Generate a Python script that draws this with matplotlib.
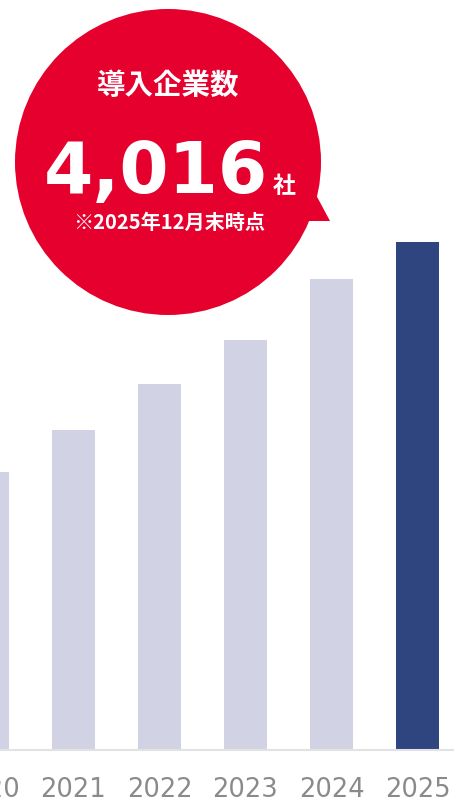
import matplotlib
matplotlib.use("Agg")
import matplotlib.pyplot as plt
from matplotlib.patches import Circle, Polygon

# Number of companies using the service, by year
years = ["2020", "2021", "2022", "2023", "2024", "2025"]
companies = [2200, 2530, 2890, 3240, 3720, 4016]

bubble_title = "導入企業数"
unit = "社"
note = "※2025年12月末時点"

W, H = 454, 803
fig = plt.figure(figsize=(W / 100, H / 100), dpi=100)

# Bar chart axes: baseline 52 px above the bottom edge; the axes starts
# 50 px left of the canvas so the first year is only partly visible
left_px = -50
ax = fig.add_axes([left_px / W, 52 / H, (W - left_px) / W, (H - 52) / H])
x = list(range(len(years)))
colors = ["#d1d3e5"] * (len(years) - 1) + ["#2e4580"]
ax.bar(x, companies, width=0.5, color=colors, zorder=2)
for s in ["top", "left", "right"]:
    ax.spines[s].set_visible(False)
ax.spines["bottom"].set_color("#e2e2e2")
ax.spines["bottom"].set_linewidth(1.5)
ax.set_yticks([])
ax.set_xticks(x)
ax.set_xticklabels(years, fontsize=18.5, color="#8a8a8a", family="DejaVu Sans")
ax.tick_params(axis="x", length=0, pad=19)
ax.set_xlim((left_px + 12.5) / 86, (W + 12.5) / 86)
ax.set_ylim(0, 4016 * (H - 52) / 508)

# Speech bubble overlay in pixel coordinates
ov = fig.add_axes([0, 0, 1, 1], zorder=5)
ov.set_xlim(0, W)
ov.set_ylim(H, 0)
ov.axis("off")
ov.patch.set_alpha(0)
red = "#e5002d"
ov.add_patch(Circle((168, 163), 153, color=red, lw=0))
ov.add_patch(Polygon([(315, 194), (330, 222), (300, 222)], closed=True, color=red, lw=0))

jp = ["Noto Sans CJK JP", "DejaVu Sans"]
ov.text(168, 86, bubble_title, ha="center", va="center", color="white",
        fontsize=20.5, fontweight="bold", family=jp)
ov.text(268, 193, f"{companies[-1]:,}", ha="right", va="baseline", color="white",
        fontsize=51, fontweight="bold", family="DejaVu Sans")
ov.text(273, 193, unit, ha="left", va="baseline", color="white",
        fontsize=16.5, fontweight="bold", family=jp)
ov.text(169, 222, note, ha="center", va="center", color="white",
        fontsize=14.5, fontweight="bold", family=jp)

fig.savefig("out.png", dpi=100)
